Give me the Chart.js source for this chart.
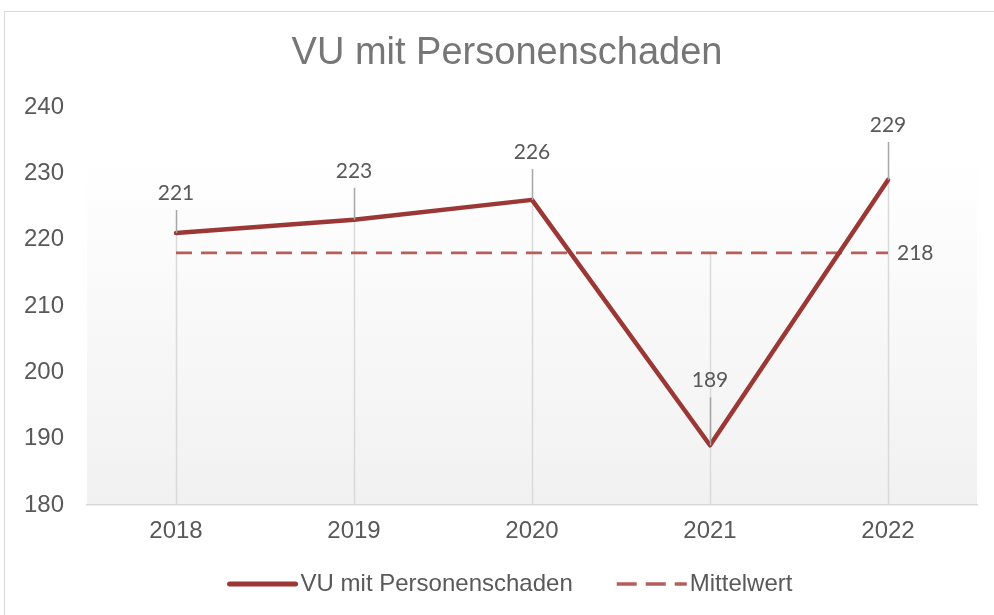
<!DOCTYPE html>
<html>
<head>
<meta charset="utf-8">
<style>
  html, body { margin: 0; padding: 0; background: #ffffff; }
  #wrap { position: relative; width: 994px; height: 615px; }
</style>
<script src="https://cdn.jsdelivr.net/npm/chart.js@4.4.1/dist/chart.umd.min.js"></script>
</head>
<body>
<div id="wrap"><canvas id="c" width="994" height="615"></canvas></div>
<script>
// ---- data ----
const categories = ['2018', '2019', '2020', '2021', '2022'];
const accidentValues = [221, 223, 226, 189, 229];
const meanValues = [218, 218, 218, 218, 218];
const yTicks = [180, 190, 200, 210, 220, 230, 240];
const titleText = 'VU mit Personenschaden';
const seriesName = 'VU mit Personenschaden';
const meanName = 'Mittelwert';

// ---- styles ----
const MAIN_COLOR = '#9b3735';
const MEAN_COLOR = '#b55f5d';
const TEXT_COLOR = '#595959';
const LABEL_FONT = '21px Lato, "Noto Sans", sans-serif';
// label lift (px above the point) for each data label, as placed in the reference
const labelLift = [40, 49, 48, 65, 55];

const decorPlugin = {
  id: 'decor',
  beforeDraw(chart) {
    const { ctx, chartArea: a } = chart;
    const g = ctx.createLinearGradient(0, a.top, 0, a.bottom);
    g.addColorStop(0, '#ffffff');
    g.addColorStop(0.12, '#ffffff');
    g.addColorStop(1, '#f1f1f1');
    ctx.save();
    ctx.fillStyle = g;
    ctx.fillRect(a.left, a.top, a.right - a.left, a.bottom - a.top);
    // title
    ctx.font = '38px "Liberation Sans", Arial, sans-serif';
    ctx.fillStyle = '#767676';
    ctx.textAlign = 'center';
    ctx.textBaseline = 'middle';
    ctx.fillText(titleText, 507, 54);
    ctx.restore();
  },
  beforeDatasetsDraw(chart) {
    // drop lines from the highest series value to the axis
    const { ctx, chartArea: a } = chart;
    const y = chart.scales.y;
    const m0 = chart.getDatasetMeta(0);
    ctx.save();
    ctx.strokeStyle = '#d9d9d9';
    ctx.lineWidth = 1.5;
    m0.data.forEach((pt, i) => {
      const top = y.getPixelForValue(Math.max(accidentValues[i], meanValues[i]));
      ctx.beginPath();
      ctx.moveTo(Math.round(pt.x) + 0.5, top);
      ctx.lineTo(Math.round(pt.x) + 0.5, a.bottom);
      ctx.stroke();
    });
    ctx.restore();
  },
  afterDatasetsDraw(chart) {
    const { ctx } = chart;
    const m0 = chart.getDatasetMeta(0);
    const m1 = chart.getDatasetMeta(1);
    ctx.save();
    ctx.font = LABEL_FONT;
    ctx.fillStyle = TEXT_COLOR;
    ctx.textAlign = 'center';
    ctx.textBaseline = 'middle';
    m0.data.forEach((pt, i) => {
      const ly = pt.y - labelLift[i];
      // leader line
      ctx.strokeStyle = '#a6a6a6';
      ctx.lineWidth = 1.5;
      ctx.beginPath();
      ctx.moveTo(Math.round(pt.x) + 0.5, ly + 17);
      ctx.lineTo(Math.round(pt.x) + 0.5, pt.y);
      ctx.stroke();
      ctx.fillText(String(accidentValues[i]), pt.x, ly);
    });
    // mean label at the last point
    const last = m1.data[m1.data.length - 1];
    ctx.textAlign = 'left';
    ctx.fillText(String(meanValues[meanValues.length - 1]), last.x + 9, last.y);
    ctx.restore();
  },
  afterDraw(chart) {
    const { ctx } = chart;
    ctx.save();
    // chart border
    ctx.strokeStyle = '#d9d9d9';
    ctx.lineWidth = 1;
    ctx.strokeRect(4.5, 11.5, 1000, 700);
    // legend
    const ly = 584;
    ctx.font = '24px "Liberation Sans", Arial, sans-serif';
    ctx.textBaseline = 'middle';
    ctx.textAlign = 'left';
    const sample = 70, gapText = 3, gapItem = 44;
    const w1 = ctx.measureText(seriesName).width;
    const w2 = ctx.measureText(meanName).width;
    const total = sample + gapText + w1 + gapItem + sample + gapText + w2;
    let x = 510 - total / 2;
    ctx.strokeStyle = MAIN_COLOR;
    ctx.lineWidth = 5;
    ctx.lineCap = 'round';
    ctx.beginPath();
    ctx.moveTo(x + 2, ly);
    ctx.lineTo(x + sample - 2, ly);
    ctx.stroke();
    ctx.fillStyle = TEXT_COLOR;
    ctx.fillText(seriesName, x + sample + gapText, ly);
    x += sample + gapText + w1 + gapItem;
    ctx.strokeStyle = MEAN_COLOR;
    ctx.lineWidth = 3.5;
    ctx.lineCap = 'butt';
    ctx.setLineDash([20, 9]);
    ctx.beginPath();
    ctx.moveTo(x, ly);
    ctx.lineTo(x + sample, ly);
    ctx.stroke();
    ctx.setLineDash([]);
    ctx.fillText(meanName, x + sample + gapText, ly);
    ctx.restore();
  }
};

new Chart(document.getElementById('c'), {
  type: 'line',
  data: {
    labels: categories,
    datasets: [
      {
        label: seriesName,
        data: accidentValues,
        borderColor: MAIN_COLOR,
        borderWidth: 4.5,
        pointRadius: 0,
        tension: 0,
        borderCapStyle: 'round',
        borderJoinStyle: 'round',
        order: 0
      },
      {
        label: meanName,
        data: meanValues,
        borderColor: MEAN_COLOR,
        borderWidth: 2.8,
        borderDash: [16, 9],
        pointRadius: 0,
        tension: 0,
        order: 1
      }
    ]
  },
  options: {
    responsive: false,
    animation: false,
    layout: { padding: { left: 0, right: 17, top: 107, bottom: 65 } },
    plugins: {
      legend: { display: false },
      tooltip: { enabled: false },
      title: { display: false }
    },
    scales: {
      x: {
        offset: true,
        grid: { display: false, drawTicks: false },
        border: { display: true, color: '#d9d9d9', width: 1.5 },
        ticks: {
          color: TEXT_COLOR,
          padding: 12,
          font: { family: '"Liberation Sans", Arial, sans-serif', size: 24 }
        },
        afterFit(s) { s.height = 45; }
      },
      y: {
        min: yTicks[0],
        max: yTicks[yTicks.length - 1],
        afterBuildTicks(s) { s.ticks = yTicks.map(v => ({ value: v })); },
        grid: { display: false, drawTicks: false },
        border: { display: false },
        ticks: {
          color: TEXT_COLOR,
          padding: 23,
          font: { family: '"Liberation Sans", Arial, sans-serif', size: 24 }
        },
        afterFit(s) { s.width = 87; }
      }
    }
  },
  plugins: [decorPlugin]
});
</script>
</body>
</html>
